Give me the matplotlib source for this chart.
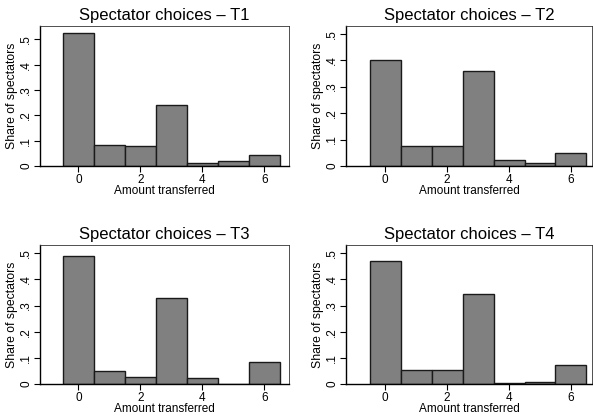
import numpy as np
import matplotlib.pyplot as plt

plt.rcParams['font.family'] = ['Liberation Sans', 'DejaVu Sans']

amounts = [0, 1, 2, 3, 4, 5, 6]
share_t1 = [0.524, 0.082, 0.078, 0.239, 0.011, 0.018, 0.042]
share_t2 = [0.400, 0.077, 0.074, 0.358, 0.021, 0.010, 0.049]
share_t3 = [0.489, 0.048, 0.028, 0.331, 0.024, 0.0, 0.083]
share_t4 = [0.471, 0.052, 0.052, 0.345, 0.005, 0.009, 0.071]
titles = ["Spectator choices – T1", "Spectator choices – T2",
          "Spectator choices – T3", "Spectator choices – T4"]
yticks = [0, 0.1, 0.2, 0.3, 0.4, 0.5]
ytick_labels = ["0", ".1", ".2", ".3", ".4", ".5"]

W, H = 593, 416
fig = plt.figure(figsize=(W / 100, H / 100), dpi=100)

# panel boxes in pixels: left, top, right, bottom
boxes = [(40, 26, 289, 166), (346, 26, 592, 166),
         (40, 245, 289, 384), (346, 245, 592, 384)]
ytops = [0.553, 0.529, 0.532, 0.532]
xlims = [(-1.24, 6.8), (-1.27, 6.68), (-1.24, 6.8), (-1.27, 6.68)]

for data, title, box, ytop, xl in zip([share_t1, share_t2, share_t3, share_t4],
                                      titles, boxes, ytops, xlims):
    l, t, r, b = box
    ax = fig.add_axes([l / W, 1 - b / H, (r - l) / W, (b - t) / H])
    ax.bar(amounts, data, width=1.0, color='#808080', edgecolor='#1a1a1a',
           linewidth=1.0)
    ax.set_xlim(*xl)
    ax.set_ylim(0, ytop)
    ax.set_xticks([0, 2, 4, 6])
    ax.set_yticks(yticks)
    ax.set_yticklabels(ytick_labels, rotation=90, va='center')
    ax.tick_params(axis='both', labelsize=8.5, length=4, width=0.8,
                   direction='out', pad=1.5)
    ax.set_title(title, fontsize=12, pad=4)
    ax.set_xlabel("Amount transferred", fontsize=8.5, labelpad=-0.5)
    ax.set_ylabel("Share of spectators", fontsize=8.8, labelpad=2)
    for side in ['left', 'bottom']:
        ax.spines[side].set_linewidth(1.0)
        ax.spines[side].set_color('black')
    for side in ['top', 'right']:
        ax.spines[side].set_linewidth(0.6)
        ax.spines[side].set_color('#333333')

plt.savefig("out.png", dpi=100)
